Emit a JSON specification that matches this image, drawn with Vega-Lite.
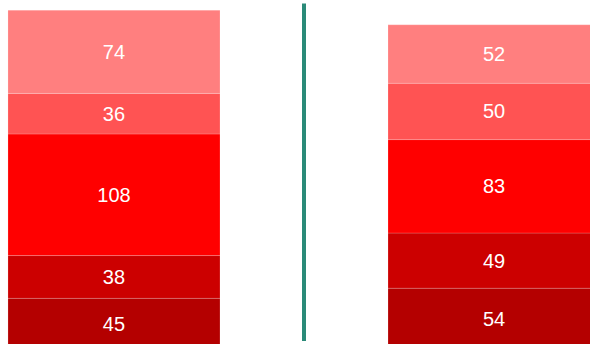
{
  "$schema": "https://vega.github.io/schema/vega-lite/v6.json",
  "width": 608,
  "height": 349,
  "autosize": "none",
  "padding": 0,
  "background": "white",
  "config": {"view": {"stroke": null}},
  "datasets": {
    "bars": [
      {"side": "A", "level": 1, "value": 45},
      {"side": "A", "level": 2, "value": 38},
      {"side": "A", "level": 3, "value": 108},
      {"side": "A", "level": 4, "value": 36},
      {"side": "A", "level": 5, "value": 74},
      {"side": "B", "level": 1, "value": 54},
      {"side": "B", "level": 2, "value": 49},
      {"side": "B", "level": 3, "value": 83},
      {"side": "B", "level": 4, "value": 50},
      {"side": "B", "level": 5, "value": 52}
    ],
    "divider": [{"pos": 0.5, "top": 307, "bottom": 7.1}]
  },
  "layer": [
    {
      "data": {"name": "bars"},
      "transform": [
        {"stack": "value", "groupby": ["side"], "sort": [{"field": "level", "order": "ascending"}], "as": ["y0", "y1"]},
        {"calculate": "(datum.y0 + datum.y1) / 2", "as": "ymid"}
      ],
      "encoding": {
        "x": {
          "field": "side", "type": "nominal", "axis": null,
          "scale": {"paddingInner": 0.4421, "paddingOuter": 0.021}
        }
      },
      "layer": [
        {
          "mark": {"type": "bar", "stroke": "#ffffff", "strokeWidth": 0.6, "strokeOpacity": 0.3},
          "encoding": {
            "y": {"field": "y0", "type": "quantitative", "axis": null, "scale": {"domain": [0, 310], "nice": false, "zero": true}},
            "y2": {"field": "y1"},
            "color": {
              "field": "level", "type": "ordinal", "legend": null,
              "scale": {"domain": [1, 2, 3, 4, 5], "range": ["#b40000", "#cc0000", "#ff0000", "#ff5353", "#ff7f7f"]}
            }
          }
        },
        {
          "mark": {"type": "text", "color": "white", "font": "Liberation Sans", "fontSize": 20, "align": "center", "baseline": "middle", "dy": 1},
          "encoding": {
            "y": {"field": "ymid", "type": "quantitative"},
            "text": {"field": "value", "type": "quantitative"}
          }
        }
      ]
    },
    {
      "data": {"name": "divider"},
      "mark": {"type": "rule", "color": "#2a8a78", "strokeWidth": 4},
      "encoding": {
        "x": {"field": "pos", "type": "quantitative", "axis": null, "scale": {"domain": [0, 1], "nice": false}},
        "y": {"field": "top", "type": "quantitative"},
        "y2": {"field": "bottom"}
      }
    }
  ],
  "resolve": {"scale": {"x": "independent"}}
}
